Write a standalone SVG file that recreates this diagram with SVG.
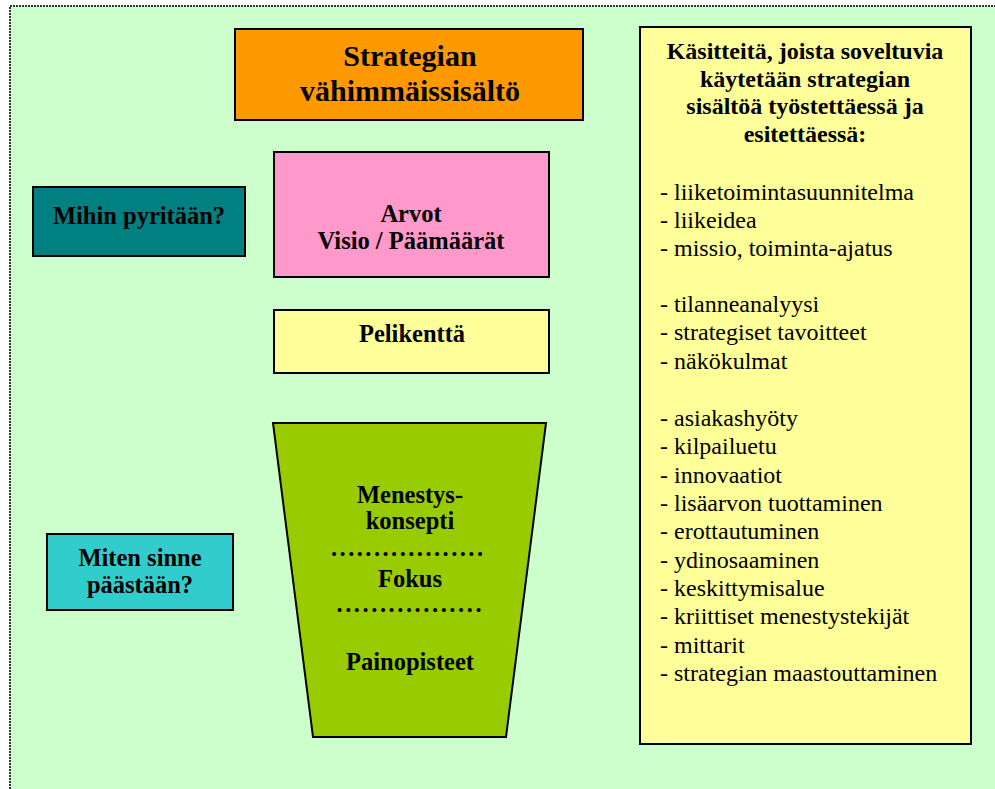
<svg xmlns="http://www.w3.org/2000/svg" width="995" height="789" viewBox="0 0 995 789">
  <style>
    .box { stroke: #000; stroke-width: 2; }
    .t { font-family: "Liberation Serif", "Times New Roman", serif; fill: #000; }
    .b { font-weight: bold; font-size: 24.5px; text-anchor: middle; }
    .h { font-weight: bold; font-size: 24px; text-anchor: middle; }
    .title { font-weight: bold; font-size: 30px; text-anchor: middle; }
    .item { font-size: 24px; }
  </style>
  <rect x="0" y="0" width="995" height="789" fill="#ffffff"/>
  <!-- page frame -->
  <rect x="10" y="6" width="1000" height="800" fill="#ccffcc" stroke="#333" stroke-width="2" stroke-dasharray="2 1"/>

  <g id="connectors"></g>

  <g id="title">
    <rect class="box" x="235" y="29" width="348" height="91" fill="#ff9900"/>
    <text class="t title" x="410" y="66">Strategian</text>
    <text class="t title" x="410" y="101">vähimmäissisältö</text>
  </g>

  <g id="arvot">
    <rect class="box" x="274" y="152" width="275" height="125" fill="#ff99cc"/>
    <text class="t b" x="411" y="222">Arvot</text>
    <text class="t b" x="411" y="249">Visio / Päämäärät</text>
  </g>

  <g id="pelikentta">
    <rect class="box" x="274" y="310" width="275" height="63" fill="#ffff99"/>
    <text class="t b" x="412" y="342">Pelikenttä</text>
  </g>

  <g id="mihin">
    <rect class="box" x="33" y="187" width="212" height="69" fill="#008080"/>
    <text class="t b" x="139" y="224">Mihin pyritään?</text>
  </g>

  <g id="miten">
    <rect class="box" x="47" y="534" width="186" height="76" fill="#33cccc"/>
    <text class="t b" x="140" y="566">Miten sinne</text>
    <text class="t b" x="140" y="593">päästään?</text>
  </g>

  <g id="konsepti">
    <polygon class="box" points="273,423 546,423 506,737 313,737" fill="#99cc00"/>
    <text class="t b" x="410" y="503">Menestys-</text>
    <text class="t b" x="410" y="529">konsepti</text>
    <text class="t b" x="407" y="556" textLength="152" lengthAdjust="spacing">..................</text>
    <text class="t b" x="410" y="587">Fokus</text>
    <text class="t b" x="409" y="612" textLength="145" lengthAdjust="spacing">.................</text>
    <text class="t b" x="410" y="670">Painopisteet</text>
  </g>

  <g id="kasitteet">
    <rect class="box" x="640" y="27" width="331" height="717" fill="#ffff99"/>
    <text class="t h" x="805" y="59">Käsitteitä, joista soveltuvia</text>
    <text class="t h" x="805" y="87">käytetään strategian</text>
    <text class="t h" x="805" y="114">sisältöä työstettäessä ja</text>
    <text class="t h" x="805" y="142">esitettäessä:</text>
    <g class="t item">
      <text x="660" y="200">- liiketoimintasuunnitelma</text>
      <text x="660" y="228">- liikeidea</text>
      <text x="660" y="256">- missio, toiminta-ajatus</text>
      <text x="660" y="312">- tilanneanalyysi</text>
      <text x="660" y="340">- strategiset tavoitteet</text>
      <text x="660" y="369">- näkökulmat</text>
      <text x="660" y="426">- asiakashyöty</text>
      <text x="660" y="454">- kilpailuetu</text>
      <text x="660" y="483">- innovaatiot</text>
      <text x="660" y="511">- lisäarvon tuottaminen</text>
      <text x="660" y="539">- erottautuminen</text>
      <text x="660" y="568">- ydinosaaminen</text>
      <text x="660" y="596">- keskittymisalue</text>
      <text x="660" y="624">- kriittiset menestystekijät</text>
      <text x="660" y="653">- mittarit</text>
      <text x="660" y="681">- strategian maastouttaminen</text>
    </g>
  </g>
</svg>
